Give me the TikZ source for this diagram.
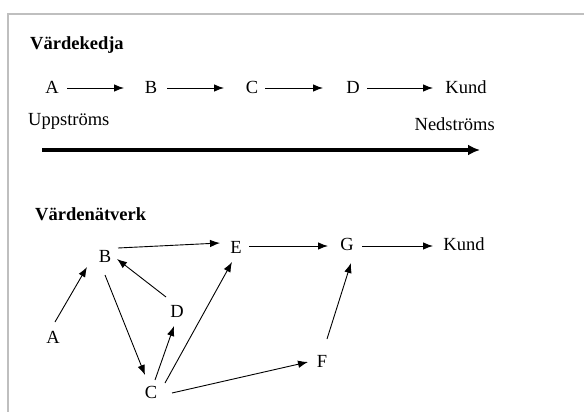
\documentclass[tikz,border=0pt]{standalone}
\usepackage{fontspec}
\setmainfont{Liberation Serif}
\usetikzlibrary{arrows.meta}
\begin{document}
\begin{tikzpicture}[x=1pt,y=-1pt,
  lbl/.style={inner sep=0pt,anchor=base,font=\fontsize{18.5}{20}\selectfont},
  ttl/.style={inner sep=0pt,anchor=base west,font=\fontsize{18.5}{20}\selectfont\bfseries},
  arr/.style={line width=0.9pt,-{Latex[length=10pt,width=7.5pt]}},
  bigarr/.style={line width=3.5pt,-{Latex[length=12pt,width=11pt]}},
  frame/.style={draw=black!25,line width=1.5pt}]
\useasboundingbox (0,0) rectangle (584,412);
\draw[frame] (8,412) -- (8,14) -- (584,14);

% Värdekedja
\node[ttl] (t1) at (30,50) {Värdekedja};
\node[lbl] (a1) at (52,93) {A};
\node[lbl] (b1) at (151,93) {B};
\node[lbl] (c1) at (252,93) {C};
\node[lbl] (d1) at (353,93) {D};
\node[lbl] (k1) at (466,93) {Kund};
\draw[arr] ([shift={(15,-5)}]a1.base) -- ([shift={(-27,-5)}]b1.base);
\draw[arr] ([shift={(16,-5)}]b1.base) -- ([shift={(-28,-5)}]c1.base);
\draw[arr] ([shift={(13,-5)}]c1.base) -- ([shift={(-30,-5)}]d1.base);
\draw[arr] ([shift={(14,-5)}]d1.base) -- ([shift={(-33,-5)}]k1.base);
\node[lbl,anchor=base west] (up) at (28,125) {Uppströms};
\node[lbl,anchor=base east] (ned) at (495,130) {Nedströms};
\coordinate (s) at (42,150);
\coordinate (e) at (480,150);
\draw[bigarr] (s) -- (e);

% Värdenätverk
\node[ttl] (t2) at (35,220) {Värdenätverk};
\node[lbl] (A) at (53,343) {A};
\node[lbl] (B) at (105,262) {B};
\node[lbl] (C) at (151,398) {C};
\node[lbl] (D) at (177,317) {D};
\node[lbl] (E) at (236,253) {E};
\node[lbl] (F) at (322,367) {F};
\node[lbl] (G) at (347,250) {G};
\node[lbl] (K) at (464,250) {Kund};

\draw[arr] ([shift={(13,-14)}]B.base) -- ([shift={(-16,-10)}]E.base);
\draw[arr] ([shift={(13,-7)}]E.base) -- ([shift={(-19,-4)}]G.base);
\draw[arr] ([shift={(15,-4)}]G.base) -- ([shift={(-31,-4)}]K.base);
\draw[arr] ([shift={(2,-21)}]A.base) -- ([shift={(-18,5)}]B.base);
\draw[arr] ([shift={(-11,-20)}]D.base) -- ([shift={(12,-3)}]B.base);
\draw[arr] ([shift={(0,13)}]B.base) -- ([shift={(-6,-23)}]C.base);
\draw[arr] ([shift={(4,-18)}]C.base) -- ([shift={(-3,9)}]D.base);
\draw[arr] ([shift={(14,-15)}]C.base) -- ([shift={(-4,9)}]E.base);
\draw[arr] ([shift={(21,-5)}]C.base) -- ([shift={(-14,-5)}]F.base);
\draw[arr] ([shift={(5,-28)}]F.base) -- ([shift={(4,13)}]G.base);
\end{tikzpicture}
\end{document}
